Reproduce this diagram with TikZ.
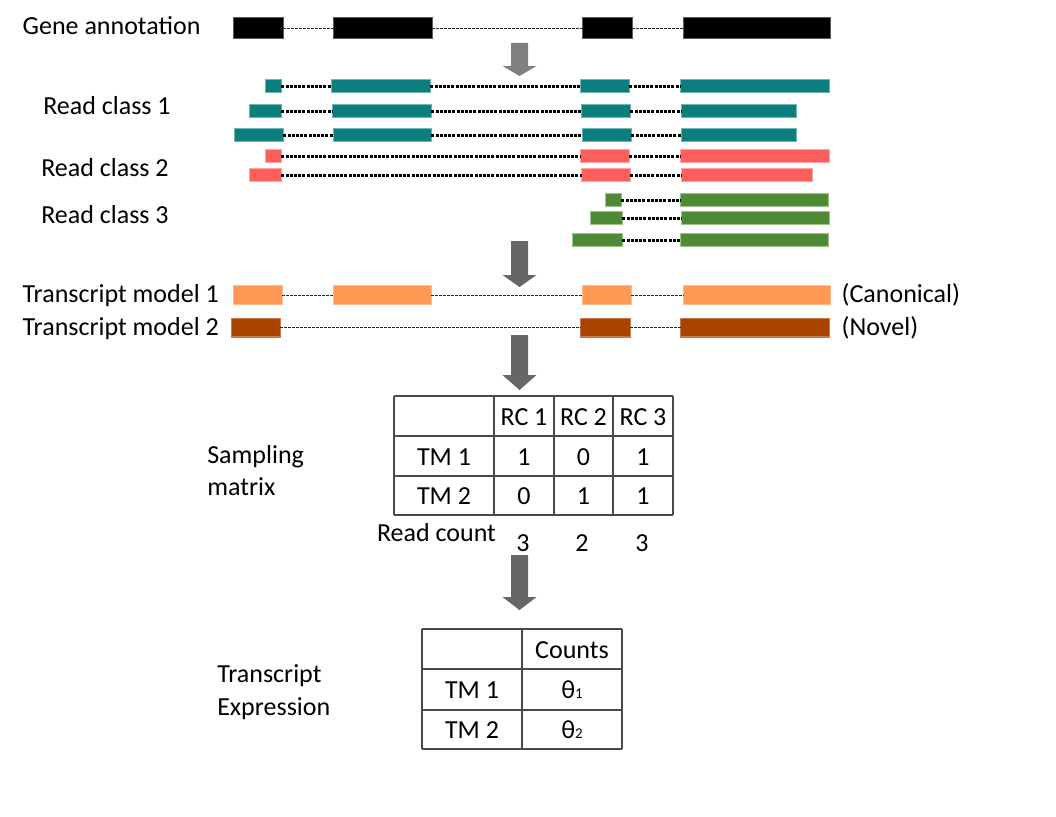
\documentclass[tikz,border=0pt]{standalone}
\usepackage{fontspec}
\setmainfont{Carlito}
\definecolor{blkedge}{HTML}{5A5A5A}
\definecolor{tealmid}{HTML}{0B7F7D}
\definecolor{tealedge}{HTML}{6DB8B6}
\definecolor{redmid}{HTML}{FF5E5E}
\definecolor{rededge}{HTML}{FFA3A3}
\definecolor{grnmid}{HTML}{4F8A35}
\definecolor{grnedge}{HTML}{9DC48C}
\definecolor{orgmid}{HTML}{FF9955}
\definecolor{orgedge}{HTML}{FFB98A}
\definecolor{brnmid}{HTML}{A84300}
\definecolor{brnedge}{HTML}{C8784A}
\definecolor{arrowlight}{HTML}{808080}
\definecolor{arrowdark}{HTML}{666666}
\definecolor{gridgray}{HTML}{4A4A4A}
\tikzset{
  exon/.style={rectangle, inner sep=0pt, outer sep=0pt, line width=1.2pt},
  geneexon/.style={exon, fill=black, draw=blkedge, minimum height=20.8pt},
  tealexon/.style={exon, fill=tealmid, draw=tealedge, minimum height=12.8pt},
  redexon/.style={exon, fill=redmid, draw=rededge, minimum height=12.8pt},
  grnexon/.style={exon, fill=grnmid, draw=grnedge, minimum height=12.8pt},
  orgexon/.style={exon, fill=orgmid, draw=orgedge, minimum height=18.8pt},
  brnexon/.style={exon, fill=brnmid, draw=brnedge, minimum height=18.8pt},
  thinintron/.style={black!85, line width=0.9pt, dash pattern=on 3pt off 1pt},
  thickintron/.style={black, line width=3pt, dash pattern=on 3pt off 1.2pt},
  lbl/.style={inner sep=0pt, outer sep=0pt, anchor=base west, font=\fontsize{26}{32}\selectfont},
  cell/.style={inner sep=0pt, outer sep=0pt, anchor=base, font=\fontsize{26}{32}\selectfont},
  gridline/.style={draw=gridgray, line width=1.3pt},
}
\newcommand\exonrow[5]{%
  \foreach [count=\i] \a/\b in {#4} {%
    \node[#1, minimum width={\b-\a-1.2}] (#2-\i) at ({(\a+\b)/2},#3) {};
  }%
  \foreach [count=\i] \a/\b in {#4} {%
    \ifnum\i>1
      \pgfmathtruncatemacro\j{\i-1}%
      \draw[#5] (#2-\j.east) -- (#2-\i.west);
    \fi
  }%
}
\newcommand\blockarrow[5]{% color, x, top, shaft end, tip
  \fill[#1] ({#2-8.5},#3) -- ({#2+8.5},#3) -- ({#2+8.5},#4) -- ({#2+17},#4)
     -- (#2,#5) -- ({#2-17},#4) -- ({#2-8.5},#4) -- cycle;
}
\begin{document}
\begin{tikzpicture}[x=1pt,y=-1pt]
\useasboundingbox (0,0) rectangle (1056,816);
\fill[white] (0,0) rectangle (1056,816);

% labels
\node[lbl] (tGene) at (22.7,35) {Gene annotation};
\node[lbl] (tRC1) at (43.3,114) {Read class 1};
\node[lbl] (tRC2) at (41.3,176) {Read class 2};
\node[lbl] (tRC3) at (41.3,223.3) {Read class 3};
\node[lbl] (tTM1) at (22.7,302.3) {Transcript model 1};
\node[lbl] (tTM2) at (22.7,335.7) {Transcript model 2};
\node[lbl] (tCan) at (841.7,302.3) {(Canonical)};
\node[lbl] (tNov) at (841.7,335.7) {(Novel)};

% gene annotation
\exonrow{geneexon}{g}{28}{233/284,333/433,582/633,683/831}{thinintron}
% read class 1
\exonrow{tealexon}{ra}{86}{265/282,331/431,580/630,680/830}{thickintron}
\exonrow{tealexon}{rb}{111}{249/282,332/432,581/631,681/797}{thickintron}
\exonrow{tealexon}{rc}{135}{234/284,333/432,582/632,681/797}{thickintron}
% read class 2
\exonrow{redexon}{rd}{156}{265/282,580/630,680/830}{thickintron}
\exonrow{redexon}{re}{175}{249/282,581/631,681/813}{thickintron}
% read class 3
\exonrow{grnexon}{rf}{200}{605/622,680/829}{thickintron}
\exonrow{grnexon}{rg}{218}{590/623,681/830}{thickintron}
\exonrow{grnexon}{rh}{240}{572/623,680/829}{thickintron}
% transcript models
\exonrow{orgexon}{tm1}{295}{233/283,333/432,582/632,683/831}{thinintron}
\exonrow{brnexon}{tm2}{327.5}{231/281,580/631,680/830}{thinintron}

% block arrows
\blockarrow{arrowlight}{519.5}{43}{66}{76}
\blockarrow{arrowdark}{519.5}{241}{275}{287}
\blockarrow{arrowdark}{519.5}{335}{375}{390}
\blockarrow{arrowdark}{519.5}{555}{597}{610}

% sampling matrix
\node[lbl] (tSamp1) at (207.3,463.3) {Sampling};
\node[lbl] (tSamp2) at (207.3,495) {matrix};
\foreach \yy in {396,436,476,515} \draw[gridline] (394,\yy) -- (673,\yy);
\foreach \xx in {394,494,554,613,673} \draw[gridline] (\xx,396) -- (\xx,515);
\node[cell] (h1) at (524,425) {RC 1};
\node[cell] (h2) at (583.5,425) {RC 2};
\node[cell] (h3) at (643,425) {RC 3};
\node[cell] (m1) at (444,465) {TM 1};
\node[cell] (m11) at (524,465) {1};
\node[cell] (m12) at (583.5,465) {0};
\node[cell] (m13) at (643,465) {1};
\node[cell] (m2) at (444,504.5) {TM 2};
\node[cell] (m21) at (524,504.5) {0};
\node[cell] (m22) at (583.5,504.5) {1};
\node[cell] (m23) at (643,504.5) {1};
\node[lbl] (tRead) at (377,541.7) {Read count};
\node[cell] (c1) at (523,551.5) {3};
\node[cell] (c2) at (582,551.5) {2};
\node[cell] (c3) at (642,551.5) {3};

% transcript expression
\node[lbl] (tExp1) at (217.3,682.3) {Transcript};
\node[lbl] (tExp2) at (217.3,715) {Expression};
\foreach \yy in {629,669,710,749} \draw[gridline] (422,\yy) -- (622,\yy);
\foreach \xx in {422,522,622} \draw[gridline] (\xx,629) -- (\xx,749);
\node[cell] (e0) at (572,658) {Counts};
\node[cell] (e1) at (472,698.5) {TM 1};
\node[cell] (e2) at (472,738) {TM 2};
\node[cell] (e11) at (572,698.5) {θ{\fontsize{15}{15}\selectfont 1}};
\node[cell] (e21) at (572,738) {θ{\fontsize{15}{15}\selectfont 2}};
\end{tikzpicture}
\end{document}
